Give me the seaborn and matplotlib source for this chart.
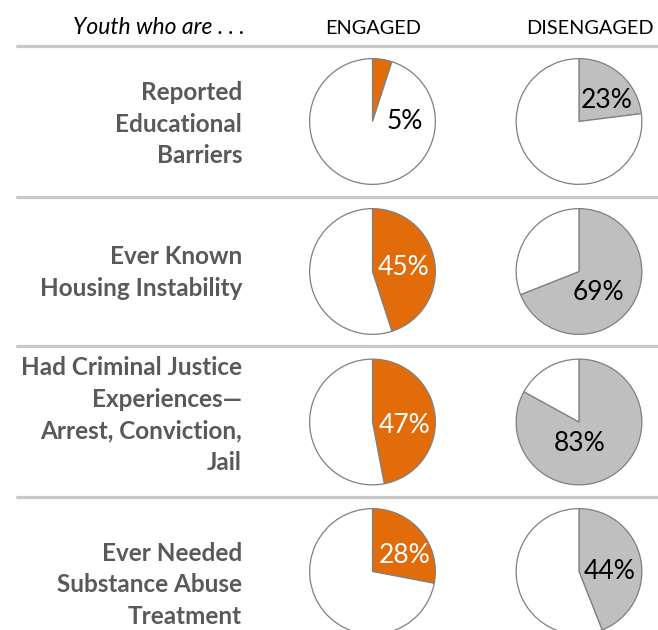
import matplotlib
matplotlib.use("Agg")
import matplotlib.pyplot as plt
from matplotlib.lines import Line2D
import seaborn as sns

# ---------------- data ----------------
row_labels = [
    "Reported\nEducational\nBarriers",
    "Ever Known\nHousing Instability",
    "Had Criminal Justice\nExperiences—\nArrest, Conviction,\nJail",
    "Ever Needed\nSubstance Abuse\nTreatment",
]
column_labels = ["ENGAGED", "DISENGAGED"]
header_label = "Youth who are . . ."
engaged = [5, 45, 47, 28]
disengaged = [23, 69, 83, 44]

# ---------------- style ----------------
sns.set_theme(style="white")
plt.rcParams["font.family"] = ["Lato", "DejaVu Sans"]

W, H = 658, 630
fig = plt.figure(figsize=(W / 100, H / 100), dpi=100)
fig.patch.set_facecolor("white")

def fx(x):
    return x / W

def fy(y):
    return 1 - y / H

ORANGE = "#E36C0A"
GREY = "#BFBFBF"
EDGE = "#7F7F7F"
LABEL_GREY = "#595959"

# layout (pixels)
sep_y = [46, 197, 346, 497]
row_cy = [121.5, 271.5, 422.0, 571.5]
text_cy = [124, 272.5, 415, 585]
col_cx = [372.5, 579.0]
R = 63.5

# label offsets (px from pie centre, y down)
lab_off = [
    [(33, 0), (28, -21.5)],
    [(31.5, -4.5), (20, 21.5)],
    [(32, 4), (1, 22)],
    [(32, -16.5), (31, 0)],
]
lab_col = [
    ["black", "black"],
    ["white", "black"],
    ["white", "black"],
    ["white", "black"],
]

# separators
for y in sep_y:
    fig.add_artist(Line2D([fx(17), fx(W)], [fy(y), fy(y)], color="#C8C8C8",
                          lw=2.3, transform=fig.transFigure))

# headers
fig.text(fx(245), fy(28), header_label, ha="right", va="center",
         fontsize=16.5, style="italic", color="black")
fig.text(fx(373), fy(28), column_labels[0], ha="center", va="center",
         fontsize=14.3, color="black")
fig.text(fx(590), fy(28), column_labels[1], ha="center", va="center",
         fontsize=14.3, color="black")

# row labels
for i, lab in enumerate(row_labels):
    fig.text(fx(242), fy(text_cy[i]), lab, ha="right", va="center",
             fontsize=17.5, fontweight="bold", color=LABEL_GREY,
             linespacing=1.46)

# pies
for i in range(4):
    for j, (vals, col) in enumerate([(engaged, ORANGE), (disengaged, GREY)]):
        cx, cy = col_cx[j], row_cy[i]
        ax = fig.add_axes([fx(cx - R), fy(cy + R), 2 * R / W, 2 * R / H])
        v = vals[i]
        ax.pie([v, 100 - v], colors=[col, "white"], startangle=90,
               counterclock=False, radius=1,
               wedgeprops=dict(edgecolor=EDGE, linewidth=0.9))
        ax.set_xlim(-1.01, 1.01)
        ax.set_ylim(-1.01, 1.01)
        ax.set_aspect("auto")
        ax.axis("off")
        dx, dy = lab_off[i][j]
        ax.text(dx / R, -dy / R, f"{v}%", ha="center", va="center",
                fontsize=19, fontweight="normal", color=lab_col[i][j])

fig.savefig("out.png", dpi=100, facecolor="white")
